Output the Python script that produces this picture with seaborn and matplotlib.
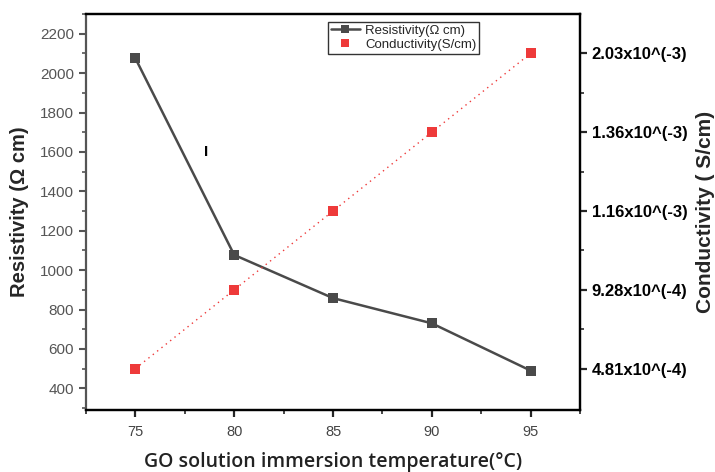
import matplotlib
matplotlib.use("Agg")
import matplotlib.pyplot as plt
import seaborn as sns
import pandas as pd
import numpy as np
from matplotlib.ticker import MultipleLocator, FixedLocator
from matplotlib.lines import Line2D

temperature = [75, 80, 85, 90, 95]
resistivity = [2075, 1077, 858, 730, 490]
conductivity_labels = ["4.81x10^(-4)", "9.28x10^(-4)", "1.16x10^(-3)", "1.36x10^(-3)", "2.03x10^(-3)"]
conductivity_rank = [1, 2, 3, 4, 5]

sns.set_style("ticks")
plt.rcParams['font.family'] = ['Liberation Sans', 'DejaVu Sans']

fig = plt.figure(figsize=(7.15, 4.72), dpi=100)
ax = fig.add_axes([86/715, 1-410/472, (580-86)/715, (410-14)/472])
ax2 = ax.twinx()

df = pd.DataFrame({"T": temperature, "R": resistivity, "C": conductivity_rank})

dark = "#4a4a4a"
red = "#ee3a3a"
sns.lineplot(data=df, x="T", y="R", ax=ax, color=dark, lw=1.8, marker="s",
             markersize=7, markeredgewidth=0, zorder=3)
sns.lineplot(data=df, x="T", y="C", ax=ax2, color=red, lw=1.0, ls=(0, (1, 3)),
             marker="s", markersize=7, markeredgewidth=0, zorder=3)

ax.set_xlim(72.5, 97.5)
ax.set_ylim(290, 2300)
ax2.set_ylim(0.475, 5.5)

ax.set_xticks(temperature)
ax.xaxis.set_minor_locator(MultipleLocator(2.5))
ax.set_yticks(np.arange(400, 2201, 200))
ax.yaxis.set_minor_locator(MultipleLocator(100))
ax2.set_yticks(conductivity_rank)
ax2.set_yticklabels(conductivity_labels)
ax2.yaxis.set_minor_locator(FixedLocator([1.5, 2.5, 3.5, 4.5]))

for a in (ax, ax2):
    for s in a.spines.values():
        s.set_linewidth(1.6)
        s.set_color("black")
ax.spines['left'].set_color("#555555")
ax2.spines['left'].set_visible(False)

ax.tick_params(axis='y', which='major', length=5, width=1.5, color="#555555",
               labelsize=11, labelcolor="#555555", direction='out')
ax.tick_params(axis='y', which='minor', length=3, width=1.2, color="#555555", direction='out')
ax.tick_params(axis='x', which='major', length=5, width=1.6, labelsize=10.5,
               labelcolor="#444444", direction='out', pad=6)
ax.tick_params(axis='x', which='minor', length=3, width=1.2, direction='out')
ax2.tick_params(axis='y', which='major', length=5, width=1.6, labelsize=12,
                labelcolor="black", direction='out')
ax2.tick_params(axis='y', which='minor', length=3, width=1.2, direction='out')
for lab in ax2.get_yticklabels():
    lab.set_fontweight('bold')

ax.set_xlabel("GO solution immersion temperature(°C)", family=['Open Sans', 'DejaVu Sans'],
              fontsize=14, fontweight='semibold', color="#222222", labelpad=9)
ax.set_ylabel("Resistivity (Ω cm)", fontsize=14.5, fontweight='bold', labelpad=8)
ax2.set_ylabel("Conductivity ( S/cm)", fontsize=15, fontweight='bold', labelpad=6)

ax.text(78.6, 1600, "I", fontsize=11, fontweight='bold', ha='center', va='center', color='black')

handles = [
    Line2D([], [], color=dark, lw=1.8, marker='s', markersize=6, markeredgewidth=0),
    Line2D([], [], color=red, lw=0, marker='s', markersize=6, markeredgewidth=0),
]
leg = ax.legend(handles, ["Resistivity(Ω cm)", "Conductivity(S/cm)"],
                loc='upper left', bbox_to_anchor=((328-86)/494, 1-(22-14)/396),
                frameon=True, fancybox=False, fontsize=9.5, handlelength=2.2,
                borderpad=0.2, labelspacing=0.15, handletextpad=0.4, borderaxespad=0)
leg.get_frame().set_edgecolor("black")
leg.get_frame().set_linewidth(1.0)

fig.savefig("out.png", dpi=100)
